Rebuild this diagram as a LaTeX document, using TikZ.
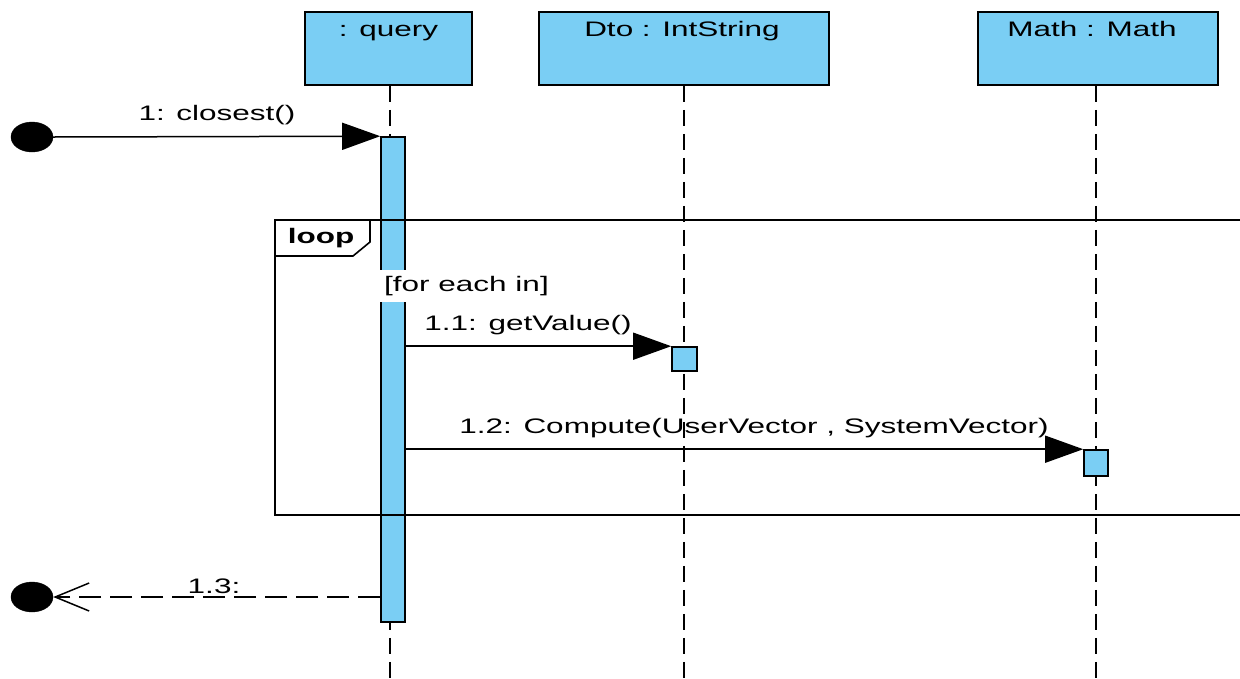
\documentclass[tikz,border=0pt]{standalone}
\usepackage{fontspec}
\setmainfont[FakeStretch=1.5]{Liberation Sans}
\usetikzlibrary{arrows.meta,shapes.geometric}
\definecolor{objblue}{RGB}{122,206,244}

\begin{document}
\begin{tikzpicture}[x=1pt,y=-1pt,
  txt/.style={font=\fontsize{21}{25}\selectfont, inner sep=0pt, anchor=base},
  head/.style={draw=black, line width=1.6pt, fill=objblue, inner sep=0pt, minimum height=73pt},
  lifeline/.style={line width=1.6pt, dash pattern=on 16pt off 8pt},
  actbar/.style={draw=black, line width=1.6pt, fill=objblue, inner sep=0pt, minimum width=24pt},
  dot/.style={ellipse, fill=black, draw=black, minimum width=42pt, minimum height=30pt, inner sep=0pt},
  syncmsg/.style={line width=1.5pt, -{Triangle[length=38pt,width=27pt]}},
  replymsg/.style={line width=1.5pt, dash pattern=on 22pt off 9pt,
    -{Straight Barb[length=34pt,width=28pt,line width=1.5pt]}},
  frame/.style={line width=1.6pt}
]
\useasboundingbox (0,0) rectangle (1240,678);
\clip (0,0) rectangle (1240,678);

% lifeline heads
\node[head, minimum width=167pt] (qhead) at (388.5,48.5) {};
\node[head, minimum width=290pt] (dhead) at (684,48.5) {};
\node[head, minimum width=240pt] (mhead) at (1098,48.5) {};
\node[txt] (qname) at (388.5,36) {: query};
\node[txt] (dname) at (682,36) {Dto : IntString};
\node[txt] (mname) at (1092,36) {Math : Math};

% lifelines
\coordinate (qend) at (390,678);
\coordinate (dend) at (684,678);
\coordinate (mend) at (1096,678);
\draw[lifeline] (qhead.south -| qend) -- (qend);
\draw[lifeline] (dhead.south -| dend) -- (dend);
\draw[lifeline] (mhead.south -| mend) -- (mend);

% activation bars
\node[actbar, minimum height=485pt] (qbar) at (393,379.5) {};
\node[actbar, minimum width=25pt, minimum height=24pt] (dbar) at (684.5,359) {};
\node[actbar, minimum height=26pt] (mbar) at (1096,463) {};

% combined fragment
\draw[frame] (275,220) rectangle (1252,515);
\draw[frame] (275,256) -- (353,256) -- (370,242) -- (370,220);
\node[txt, font=\fontsize{21}{25}\selectfont\bfseries] (looplbl) at (321,243) {loop};
\node[font=\fontsize{21}{25}\selectfont, fill=white, inner xsep=5pt, inner ysep=0pt,
      minimum height=32pt, anchor=west] (guard) at (379,286) {[for each in]};

% found message and reply
\node[dot] (start) at (32,137) {};
\node[dot] (finish) at (32,597) {};
\draw[syncmsg] (start.east) -- (qbar.north west);
\node[txt] (m1) at (217,120) {1: closest()};

\draw[syncmsg] (qbar.east |- dbar.north west) -- (dbar.north west);
\node[txt] (m11) at (528,330) {1.1: getValue()};

\draw[syncmsg] (qbar.east |- mbar.north west) -- (mbar.north west);
\node[txt] (m12) at (754,433) {1.2: Compute(UserVector , SystemVector)};

\draw[replymsg] (qbar.west |- finish.east) -- (finish.east);
\node[txt] (m13) at (214,593) {1.3:};
\end{tikzpicture}
\end{document}
